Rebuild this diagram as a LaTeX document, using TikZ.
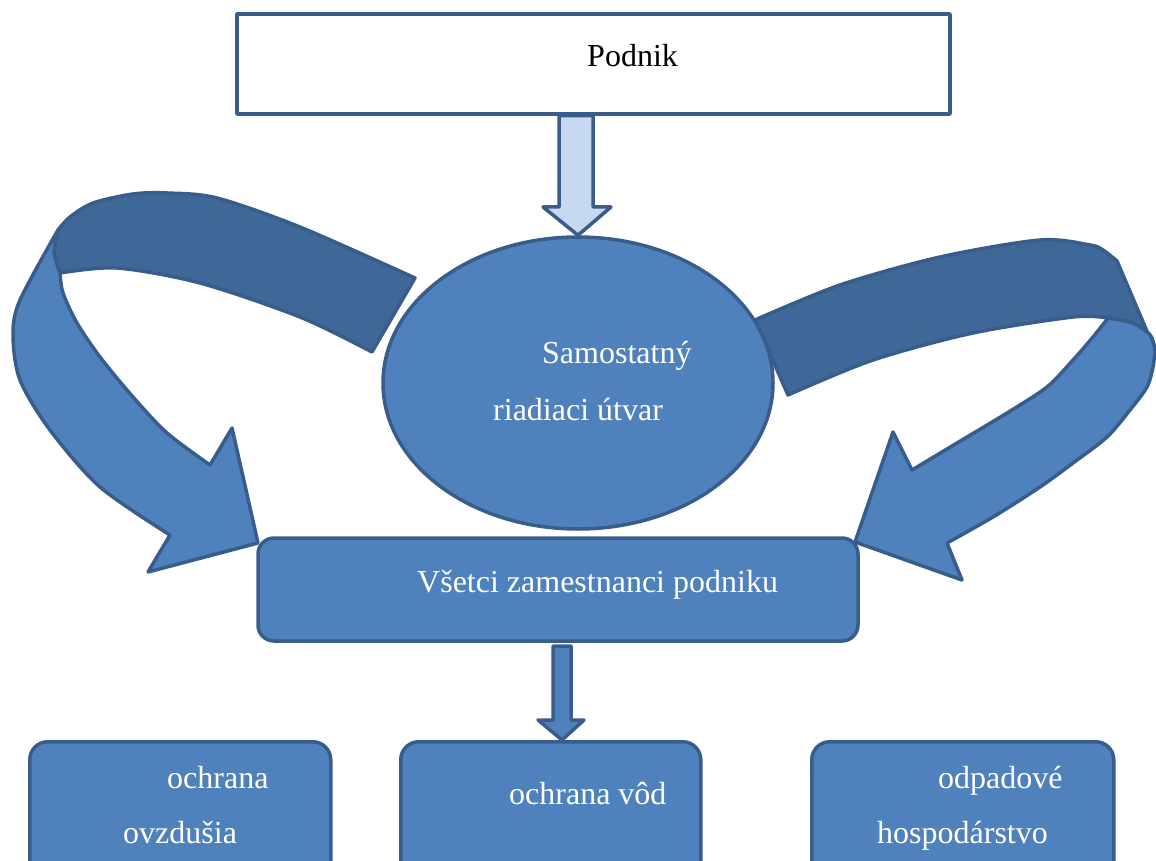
\documentclass[tikz,border=0pt]{standalone}
\usepackage{fontspec}
\setmainfont{Liberation Serif}
\usetikzlibrary{shapes.geometric}
\definecolor{bfill}{RGB}{79,129,189}
\definecolor{dfill}{RGB}{63,103,151}
\definecolor{bline}{RGB}{56,93,138}
\definecolor{lfill}{RGB}{198,217,241}
\tikzset{
  outl/.style={draw=bline, line width=3.5pt, line join=round},
  bluebox/.style={outl, fill=bfill, rounded corners=18pt},
  wtext/.style={text=white, font=\fontsize{32}{38}\selectfont, inner sep=0pt, anchor=base west},
  btext/.style={text=black, font=\fontsize{32}{38}\selectfont, inner sep=0pt, anchor=base west}
}
\begin{document}
\begin{tikzpicture}[x=1pt,y=-1pt]
\useasboundingbox (0,0) rectangle (1156,861);
\clip (0,0) rectangle (1156,861);

% left curved arrow: back (dark) part
\path[outl, fill=dfill] plot[smooth] coordinates {(58,230) (70,217) (93,203) (133,194) (167,193) (217,198) (300,227) (415,278)}
  -- (372,352)
  -- plot[smooth] coordinates {(372,352) (300,317) (200,283) (117,268) (60,273)}
  -- plot[smooth] coordinates {(60,273) (54,252) (58,230)} -- cycle;
% left curved arrow: front part with head
\path[outl, fill=bfill] plot[smooth] coordinates {(58,230) (20,300) (13,335) (20,380) (50,430) (100,487) (170,535)}
  -- (148,572) -- (258,543) -- (232,428) -- (210,465)
  -- plot[smooth] coordinates {(210,465) (167,433) (133,397) (100,357) (77,323) (63,293) (60,273)}
  -- plot[smooth] coordinates {(60,273) (54,252) (58,230)} -- cycle;

% right curved arrow: back (dark) part
\path[outl, fill=dfill] plot[smooth] coordinates {(755,320) (840,285) (940,257) (1040,240) (1090,245) (1103,250) (1117,261)}
  -- (1155,350)
  -- plot[smooth] coordinates {(1155,350) (1150,335) (1133,323) (1108,318)}
  -- plot[smooth] coordinates {(1108,318) (1073,317) (973,333) (873,360) (788,395)} -- cycle;
% right curved arrow: front part with head
\path[outl, fill=bfill] plot[smooth] coordinates {(1108,318) (1133,323) (1150,335) (1155,350)}
  -- plot[smooth] coordinates {(1155,350) (1153,367) (1147,387) (1130,410) (1107,437) (1073,463) (1040,487) (993,517) (947,543)}
  -- (962,580) -- (855,542) -- (893,432) -- (912,470)
  -- plot[smooth] coordinates {(912,470) (957,443) (1007,413) (1047,387) (1073,360) (1093,337) (1108,318)} -- cycle;

% Podnik box
\node[outl, fill=white, minimum width=713pt, minimum height=100pt, inner sep=0pt] (podnik) at (593.5,64) {};
\node[btext] (podnikt) at (587,67) {Podnik};

% ellipse
\node[outl, fill=bfill, ellipse, minimum width=390pt, minimum height=292pt, inner sep=0pt] (sru) at (578,383) {};
\node[wtext] (sru1) at (542,363) {Samostatný};
\node[wtext] (sru2) at (493,420) {riadiaci útvar};

% hollow arrow Podnik -> ellipse
\path[outl, fill=lfill] (podnik.south -| 559,0) -- (559,207) -- (543,207) -- (sru.north) -- (611,207) -- (593,207) -- (podnik.south -| 593,0) -- cycle;

% all employees box
\node[bluebox, rounded corners=16pt, minimum width=600pt, minimum height=103pt, inner sep=0pt] (all) at (558,589.5) {};
\node[wtext] (allt) at (417,592) {Všetci zamestnanci podniku};

% bottom boxes
\node[bluebox, minimum width=301pt, minimum height=160pt, inner sep=0pt, anchor=north west] (b1) at (28,740) {};
\node[bluebox, minimum width=300pt, minimum height=160pt, inner sep=0pt, anchor=north west] (b2) at (399,740) {};
\node[bluebox, minimum width=302pt, minimum height=160pt, inner sep=0pt, anchor=north west] (b3) at (810,740) {};
\node[wtext] (b1a) at (167,788) {ochrana};
\node[wtext] (b1b) at (123,843) {ovzdušia};
\node[wtext] (b2a) at (509,804) {ochrana vôd};
\node[wtext] (b3a) at (938,788) {odpadové};
\node[wtext] (b3b) at (877,843) {hospodárstvo};

% arrow all -> middle box
\path[outl, fill=bfill] (553,646) -- (553,720) -- (538,720) -- (b2.north -| 562,0) -- (584,720) -- (571,720) -- (571,646) -- cycle;
\end{tikzpicture}
\end{document}
